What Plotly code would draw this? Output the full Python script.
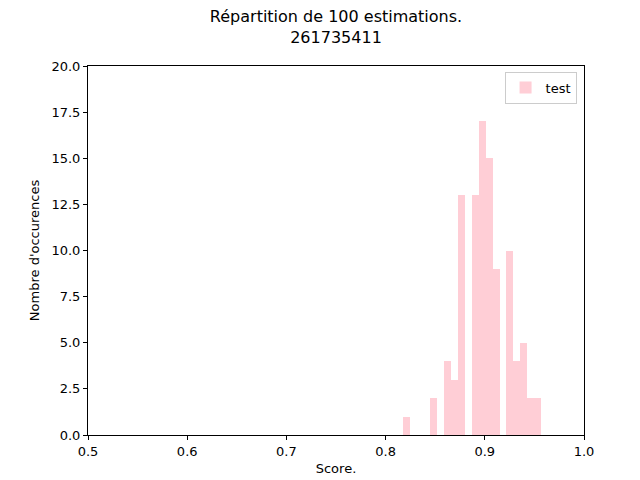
import plotly.graph_objects as go

bin_centers = [0.8211, 0.8481, 0.8624, 0.8695, 0.8765, 0.8906, 0.8977, 0.9047, 0.9113,
               0.9249, 0.9320, 0.9390, 0.9461, 0.9531]
counts = [1, 2, 4, 3, 13, 13, 17, 15, 9, 10, 4, 5, 2, 2]
bin_width = 0.00706

fig = go.Figure(go.Bar(x=bin_centers, y=counts, width=bin_width, name="test",
                       marker=dict(color="rgba(255,192,203,0.78)", line=dict(width=0)),
                       showlegend=True))
ax = dict(showline=True, linecolor="black", linewidth=1, mirror=True, ticks="outside",
          ticklen=4, tickcolor="black", showgrid=False, zeroline=False, automargin=False,
          tickfont=dict(size=13, color="black"))
fig.update_layout(
    width=640, height=480, plot_bgcolor="white", paper_bgcolor="white",
    margin=dict(l=80, r=64, t=58, b=53, autoexpand=False),
    font=dict(family="DejaVu Sans", color="black"),
    title=dict(text="Répartition de 100 estimations.<br>261735411", x=0.5, xanchor="center",
               xref="paper", y=0.97, yanchor="top", yref="container", automargin=False,
               font=dict(size=16)),
    xaxis=dict(range=[0.5, 1.0], tickvals=[0.5, 0.6, 0.7, 0.8, 0.9, 1.0], tickformat=".1f",
               title=dict(text="Score.", font=dict(size=13), standoff=6), **ax),
    yaxis=dict(range=[0, 20], tickvals=[0, 2.5, 5, 7.5, 10, 12.5, 15, 17.5, 20], tickformat=".1f",
               title=dict(text="Nombre d'occurences", font=dict(size=13), standoff=8), **ax),
    legend=dict(x=0.985, y=0.985, xanchor="right", yanchor="top", bordercolor="#cccccc",
                borderwidth=1, font=dict(size=13)),
    bargap=0,
)
fig.write_html("out.html")
